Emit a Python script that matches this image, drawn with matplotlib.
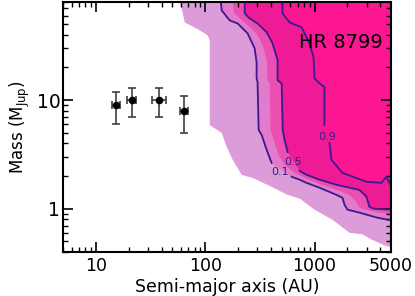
import matplotlib
matplotlib.use('Agg')
import matplotlib.pyplot as plt

# outer edge of the sensitivity map (lowest level)
a_edge = [56.1, 65.0, 89.1, 105.4, 109.9, 109.9, 141.5, 157.1, 178.3, 215.4, 271.6,
          404.8, 566.6, 729.5, 1000, 1459, 2089, 2742, 3319, 4355, 5047]
m_edge = [100, 52.0, 43.9, 39.4, 35.5, 5.90, 4.98, 3.71, 2.82, 2.05, 1.92,
          1.59, 1.34, 1.24, 0.98, 0.79, 0.60, 0.58, 0.52, 0.46, 0.44]

# detection probability contours
a_01 = [135.6, 141.5, 167.4, 198, 244, 283, 295, 295, 301, 308, 328, 365, 404.8,
        616, 729.5, 845, 1111, 1588, 1802, 1879, 2000, 2576, 3683, 5000]
m_01 = [100, 67.0, 54.2, 50.8, 41.2, 30.0, 22.3, 15.9, 14.6, 5.31, 4.78, 3.47, 2.64,
        1.97, 1.85, 1.73, 1.56, 1.34, 1.26, 1.09, 0.98, 0.92, 0.83, 0.78]
gap_01 = 13

a_03 = [174.6, 182, 206.5, 244, 295, 335, 365, 372, 388, 396, 422, 469, 532,
        656, 845, 1111, 1588, 2089, 2420, 2576, 3178, 5000]
m_03 = [100, 64.1, 56.5, 48.8, 41.2, 32.0, 23.3, 15.2, 14.3, 5.31, 4.30, 3.13, 2.54,
        2.14, 1.88, 1.69, 1.49, 1.34, 1.14, 1.02, 0.96, 0.88]

a_05 = [229.5, 229.5, 254.9, 301, 365, 413, 459, 459, 500, 511, 532, 566.6,
        729.5, 845, 1111, 1588, 2576, 2985, 3178, 3462, 5000]
m_05 = [100, 62.8, 56.5, 50.8, 42.1, 33.3, 23.3, 15.2, 14.3, 5.31, 4.30, 3.33,
        2.23, 2.05, 1.85, 1.66, 1.49, 1.29, 1.04, 1.0, 0.98]
gap_05 = 12

a_09 = [500, 511, 591, 761, 900, 979, 1000, 1111, 1233, 1233,
        1371, 1429, 1802, 2985, 4093, 4546, 5000]
m_09 = [100, 62.8, 52.0, 46.8, 33.3, 24.8, 15.9, 14.3, 13.2, 5.90,
        4.04, 2.82, 2.14, 1.77, 1.73, 1.97, 1.62]
gap_09 = 10

labels = ['0.1', '0.5', '0.9']
label_a = [479, 630, 1315]
label_m = [2.18, 2.70, 4.58]

# HR 8799 planets
planet_a = [15.2, 21.2, 38, 64]
planet_aerr = [1.3, 2.1, 5.5, 5]
planet_m = [9, 10, 10, 8]
planet_merr = [3, 3, 3, 3]

fig = plt.figure(figsize=(4.15, 2.96), dpi=100)
ax = fig.add_axes([0.152, 0.149, 0.790, 0.844])
ax.set_xscale('log')
ax.set_yscale('log')


def region(a, m, color):
    xs = [a[0]] + list(a) + [1e4, 1e4]
    ys = [200] + list(m) + [m[-1], 200]
    ax.fill(xs, ys, color=color, lw=0, zorder=1)


region(a_edge, m_edge, '#dc9bd9')
region(a_01, m_01, '#e27bcb')
region(a_03, m_03, '#ea4fb1')
region(a_05, m_05, '#ef1b96')
region(a_09, m_09, '#fd1692')

line_col = '#3a1a8c'
for a, m, g in [(a_01, m_01, gap_01), (a_05, m_05, gap_05), (a_09, m_09, gap_09)]:
    ax.plot(a[:g], m[:g], color=line_col, lw=1.3, zorder=2)
    ax.plot(a[g:], m[g:], color=line_col, lw=1.3, zorder=2)
for t, x, y in zip(labels, label_a, label_m):
    ax.text(x, y, t, color=line_col, fontsize=8, ha='center', va='center', zorder=3)

ax.errorbar(planet_a, planet_m, xerr=planet_aerr, yerr=planet_merr, fmt='o',
            color='black', ecolor='0.25', ms=4.5, elinewidth=1.2, capsize=3,
            capthick=1.2, zorder=4)

ax.text(0.975, 0.84, 'HR 8799', transform=ax.transAxes, fontsize=14,
        ha='right', va='center', zorder=5)

ax.set_xlim(5, 5000)
ax.set_ylim(0.4, 80)
ax.set_xticks([10, 100, 1000, 5000])
ax.set_xticklabels(['10', '100', '1000', '5000'])
ax.set_yticks([1, 10])
ax.set_yticklabels(['1', '10'])
ax.tick_params(which='both', direction='in', top=True, right=True, width=1.2)
ax.tick_params(axis='x', labelsize=12.5, pad=4)
ax.tick_params(axis='y', labelsize=13.5, pad=2)
ax.tick_params(which='major', length=7.5)
ax.tick_params(which='minor', length=3.6, width=1)
for s in ax.spines.values():
    s.set_linewidth(1.5)
    s.set_zorder(6)

ax.set_xlabel('Semi-major axis (AU)', fontsize=12.5, labelpad=2)
ax.set_ylabel(r'Mass (M$_{\rm Jup}$)', fontsize=12, labelpad=3)

fig.savefig('out.png', dpi=100)
